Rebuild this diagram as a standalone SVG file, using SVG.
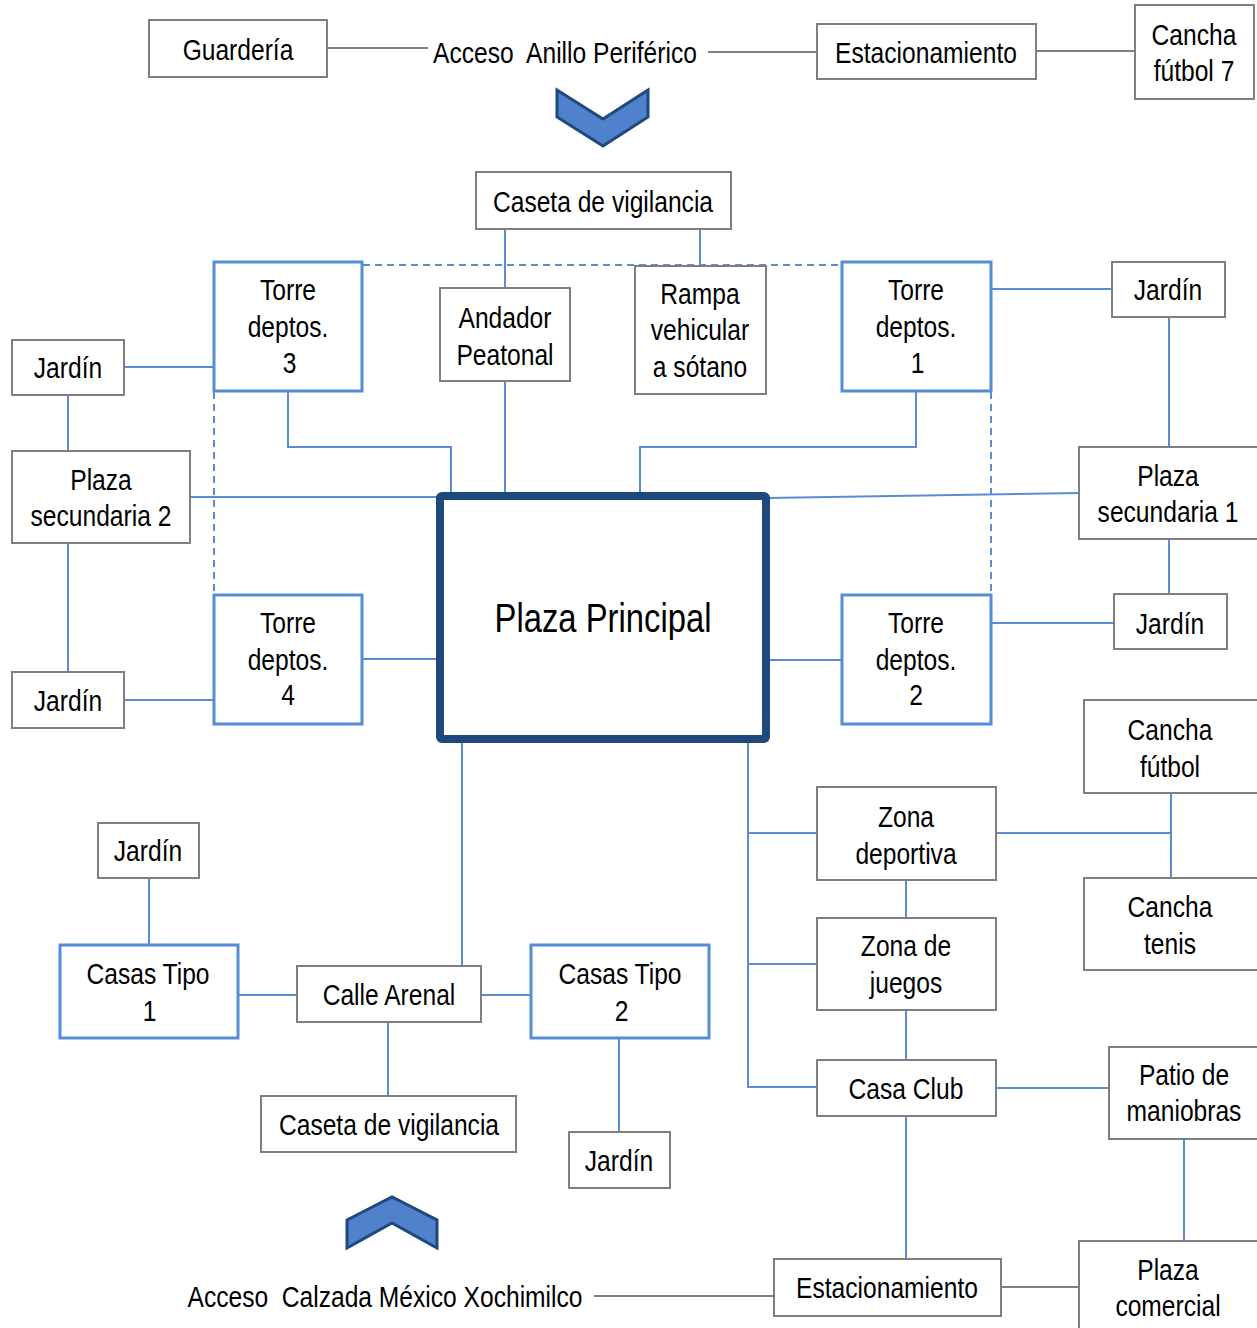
<svg xmlns="http://www.w3.org/2000/svg" width="1257" height="1328" viewBox="0 0 1257 1328">
<style>
.g{fill:#fff;stroke:#7f7f7f;stroke-width:2}
.b{fill:#fff;stroke:#558ed5;stroke-width:3}
.m{fill:#fff;stroke:#1f497d;stroke-width:8}
text{font-family:"Liberation Sans",Arial,sans-serif;font-size:30px;fill:#000;text-anchor:middle;white-space:pre}
.c{fill:none;stroke:#5b8bd0;stroke-width:2}
.cg{fill:none;stroke:#7f7f7f;stroke-width:2}
.d{fill:none;stroke:#5b8bd0;stroke-width:2;stroke-dasharray:7 5}
.chev{fill:#4f81cc;stroke:#1f497d;stroke-width:3;stroke-linejoin:miter}
</style>
<rect width="1257" height="1328" fill="#fff"/>
<g id="connectors">
<path class="cg" d="M327 48H428M708 52H817M1036 51H1134"/>
<path class="cg" d="M594 1296H774M1001 1287H1079"/>
<path class="d" d="M363 265H842M214 392V595M991 392V595"/>
<path class="c" d="M505 229V288M700 229V266"/>
<path class="c" d="M288 392V447H451V493M505 381V493M916 392V447H640V493"/>
<path class="c" d="M190 497H438M767 498L1079 493M362 659H440M767 660H842"/>
<path class="c" d="M124 367H214M68 395V451M68 543V672M124 700H214"/>
<path class="c" d="M992 289H1112M1169 317V447M1169 539V594M992 623H1114"/>
<path class="c" d="M462 741V966M748 741V1087H817M748 833H817M748 964H817"/>
<path class="c" d="M996 833H1171M1171 793V878M906 880V918M906 1010V1060M996 1088H1109M1184 1139V1241M906 1116V1259"/>
<path class="c" d="M149 878V945M238 995H297M481 995H531M619 1038V1132M388 1022V1096"/>
</g>
<g id="chevron-top"><polygon class="chev" points="557,90 603,119 648,90 648,117 603,146 557,117"/></g>
<g id="chevron-bottom"><polygon class="chev" points="347,1220 392,1197 437,1220 437,1248 392,1223 347,1248"/></g>
<g id="acceso-anillo"><text x="565" y="63" transform="matrix(0.82 0 0 1 101.7 0)">Acceso  Anillo Periférico</text></g>
<g id="guarderia"><rect class="g" x="149" y="20" width="178" height="57"/><text x="238" y="60" transform="matrix(0.82 0 0 1 42.84 0)">Guardería</text></g>
<g id="estacionamiento-top"><rect class="g" x="817" y="24" width="219" height="55"/><text x="926" y="63" transform="matrix(0.82 0 0 1 166.68 0)">Estacionamiento</text></g>
<g id="cancha-futbol7"><rect class="g" x="1135" y="5" width="119" height="94"/><g transform="matrix(0.82 0 0 1 214.92 0)"><text x="1194" y="45">Cancha</text><text x="1194" y="81">fútbol 7</text></g></g>
<g id="caseta-top"><rect class="g" x="476" y="172" width="255" height="57"/><text x="603" y="212" transform="matrix(0.82 0 0 1 108.54 0)">Caseta de vigilancia</text></g>
<g id="andador"><rect class="g" x="440" y="288" width="130" height="93"/><g transform="matrix(0.82 0 0 1 90.9 0)"><text x="505" y="328">Andador</text><text x="505" y="365">Peatonal</text></g></g>
<g id="rampa"><rect class="g" x="635" y="266" width="131" height="128"/><g transform="matrix(0.82 0 0 1 126 0)"><text x="700" y="304">Rampa</text><text x="700" y="340">vehicular</text><text x="700" y="377">a sótano</text></g></g>
<g id="torre3"><rect class="b" x="214" y="262" width="148" height="129"/><g transform="matrix(0.82 0 0 1 51.84 0)"><text x="288" y="300">Torre</text><text x="288" y="337">deptos.</text><text x="290" y="373">3</text></g></g>
<g id="torre1"><rect class="b" x="842" y="262" width="149" height="129"/><g transform="matrix(0.82 0 0 1 164.88 0)"><text x="916" y="300">Torre</text><text x="916" y="337">deptos.</text><text x="918" y="373">1</text></g></g>
<g id="torre4"><rect class="b" x="214" y="595" width="148" height="129"/><g transform="matrix(0.82 0 0 1 51.84 0)"><text x="288" y="633">Torre</text><text x="288" y="670">deptos.</text><text x="288" y="705">4</text></g></g>
<g id="torre2"><rect class="b" x="842" y="595" width="149" height="129"/><g transform="matrix(0.82 0 0 1 164.88 0)"><text x="916" y="633">Torre</text><text x="916" y="670">deptos.</text><text x="916" y="705">2</text></g></g>
<g id="plaza-principal"><rect class="m" x="440" y="496" width="326" height="243" rx="2"/><text x="603" y="632" style="font-size:40px" transform="matrix(0.82 0 0 1 108.54 0)">Plaza Principal</text></g>
<g id="jardin-lt"><rect class="g" x="12" y="340" width="112" height="55"/><text x="68" y="378" transform="matrix(0.82 0 0 1 12.24 0)">Jardín</text></g>
<g id="plaza-sec2"><rect class="g" x="12" y="451" width="178" height="92"/><g transform="matrix(0.82 0 0 1 18.18 0)"><text x="101" y="490">Plaza</text><text x="101" y="526">secundaria 2</text></g></g>
<g id="jardin-lb"><rect class="g" x="12" y="672" width="112" height="56"/><text x="68" y="711" transform="matrix(0.82 0 0 1 12.24 0)">Jardín</text></g>
<g id="jardin-rt"><rect class="g" x="1112" y="262" width="113" height="55"/><text x="1168" y="300" transform="matrix(0.82 0 0 1 210.24 0)">Jardín</text></g>
<g id="plaza-sec1"><rect class="g" x="1079" y="447" width="180" height="92"/><g transform="matrix(0.82 0 0 1 210.24 0)"><text x="1168" y="486">Plaza</text><text x="1168" y="522">secundaria 1</text></g></g>
<g id="jardin-rb"><rect class="g" x="1114" y="594" width="113" height="55"/><text x="1170" y="634" transform="matrix(0.82 0 0 1 210.6 0)">Jardín</text></g>
<g id="cancha-futbol"><rect class="g" x="1084" y="700" width="175" height="93"/><g transform="matrix(0.82 0 0 1 210.6 0)"><text x="1170" y="740">Cancha</text><text x="1170" y="777">fútbol</text></g></g>
<g id="zona-deportiva"><rect class="g" x="817" y="787" width="179" height="93"/><g transform="matrix(0.82 0 0 1 163.08 0)"><text x="906" y="827">Zona</text><text x="906" y="864">deportiva</text></g></g>
<g id="cancha-tenis"><rect class="g" x="1084" y="878" width="175" height="92"/><g transform="matrix(0.82 0 0 1 210.6 0)"><text x="1170" y="917">Cancha</text><text x="1170" y="954">tenis</text></g></g>
<g id="zona-juegos"><rect class="g" x="817" y="918" width="179" height="92"/><g transform="matrix(0.82 0 0 1 163.08 0)"><text x="906" y="956">Zona de</text><text x="906" y="993">juegos</text></g></g>
<g id="casa-club"><rect class="g" x="817" y="1060" width="179" height="56"/><text x="906" y="1099" transform="matrix(0.82 0 0 1 163.08 0)">Casa Club</text></g>
<g id="patio"><rect class="g" x="1109" y="1047" width="150" height="92"/><g transform="matrix(0.82 0 0 1 213.12 0)"><text x="1184" y="1085">Patio de</text><text x="1184" y="1121">maniobras</text></g></g>
<g id="plaza-comercial"><rect class="g" x="1079" y="1241" width="180" height="95"/><g transform="matrix(0.82 0 0 1 210.24 0)"><text x="1168" y="1280">Plaza</text><text x="1168" y="1316">comercial</text></g></g>
<g id="estacionamiento-bottom"><rect class="g" x="774" y="1259" width="227" height="57"/><text x="887" y="1298" transform="matrix(0.82 0 0 1 159.66 0)">Estacionamiento</text></g>
<g id="acceso-calzada"><text x="385" y="1307" transform="matrix(0.82 0 0 1 69.3 0)">Acceso  Calzada México Xochimilco</text></g>
<g id="jardin-casas1"><rect class="g" x="98" y="823" width="101" height="55"/><text x="148" y="861" transform="matrix(0.82 0 0 1 26.64 0)">Jardín</text></g>
<g id="casas1"><rect class="b" x="60" y="945" width="178" height="93"/><g transform="matrix(0.82 0 0 1 26.64 0)"><text x="148" y="984">Casas Tipo</text><text x="150" y="1021">1</text></g></g>
<g id="calle-arenal"><rect class="g" x="297" y="966" width="184" height="56"/><text x="389" y="1005" transform="matrix(0.82 0 0 1 70.02 0)">Calle Arenal</text></g>
<g id="casas2"><rect class="b" x="531" y="945" width="178" height="93"/><g transform="matrix(0.82 0 0 1 111.6 0)"><text x="620" y="984">Casas Tipo</text><text x="622" y="1021">2</text></g></g>
<g id="jardin-casas2"><rect class="g" x="569" y="1132" width="101" height="56"/><text x="619" y="1171" transform="matrix(0.82 0 0 1 111.42 0)">Jardín</text></g>
<g id="caseta-bottom"><rect class="g" x="261" y="1096" width="255" height="56"/><text x="389" y="1135" transform="matrix(0.82 0 0 1 70.02 0)">Caseta de vigilancia</text></g>
</svg>
